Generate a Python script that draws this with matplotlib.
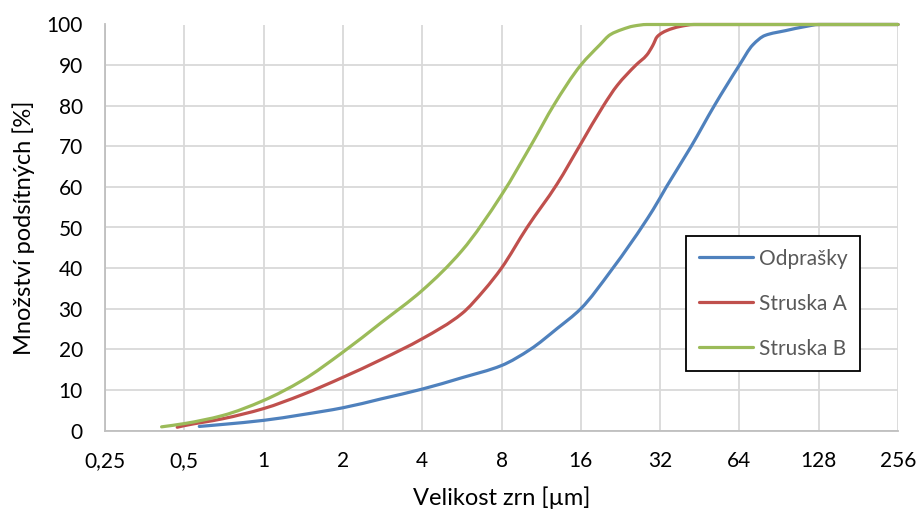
import matplotlib
matplotlib.use("Agg")
import numpy as np
import matplotlib.pyplot as plt
from matplotlib.lines import Line2D
from matplotlib.patches import PathPatch
from matplotlib.path import Path
from matplotlib.ticker import FixedLocator, NullLocator

plt.rcParams["font.family"] = ["Lato", "DejaVu Sans"]

# grain size [um] and cumulative passing [%]
odprasky_x = [0.57, 0.7, 1, 1.4, 2, 2.8, 4, 5.66, 8, 10.3, 13, 16, 20.8, 30.1,
              33.8, 42, 51.4, 64, 72, 80, 96, 114, 128, 256]
odprasky_y = [1.0, 1.5, 2.5, 3.9, 5.6, 7.8, 10.2, 13.0, 16.0, 20.0, 25.1, 30.0,
              39.3, 54.4, 60, 70, 80, 90, 95, 97.3, 98.5, 99.5, 100, 100]

struska_a_x = [0.47, 0.5, 0.7, 1, 1.4, 2, 2.8, 4, 5.66, 6.9, 8, 10, 13, 16,
               19.5, 22, 25.9, 28.5, 30, 31.2, 33.9, 38, 43, 256]
struska_a_y = [0.8, 1.2, 2.9, 5.4, 8.8, 13.1, 17.5, 22.6, 28.8, 34.7, 40, 50,
               60.7, 70.6, 80, 85, 90, 92.5, 94.8, 97, 98.5, 99.5, 100, 100]

struska_b_x = [0.41, 0.5, 0.7, 1, 1.4, 2, 2.8, 4, 5.66, 8, 10.6, 12.6, 16,
               18.9, 20.7, 23, 25.3, 28.5, 256]
struska_b_y = [0.9, 1.7, 3.7, 7.4, 12.3, 19.3, 26.6, 34.5, 44.3, 58.0, 71.4,
               80, 90, 95, 97.5, 98.8, 99.6, 100, 100]

series_names = ["Odprašky", "Struska A", "Struska B"]
series_colors = ["#4F81BD", "#C0504D", "#9BBB59"]

x_ticks = [0.25, 0.5, 1, 2, 4, 8, 16, 32, 64, 128, 256]
x_labels = ["0,25", "0,5", "1", "2", "4", "8", "16", "32", "64", "128", "256"]
y_ticks = list(range(0, 101, 10))


def smooth_path(xs, ys):
    # smoothed line like Excel: monotone cubic bezier through the points, in log2(x)
    lx = np.log2(xs)
    y = np.asarray(ys, dtype=float)
    h = np.diff(lx)
    d = np.diff(y) / h
    m = np.zeros_like(y)
    m[0], m[-1] = d[0], d[-1]
    for k in range(1, len(y) - 1):
        if d[k - 1] * d[k] > 0:
            w1 = 2 * h[k] + h[k - 1]
            w2 = h[k] + 2 * h[k - 1]
            m[k] = (w1 + w2) / (w1 / d[k - 1] + w2 / d[k])
    verts = [(xs[0], ys[0])]
    for i in range(len(y) - 1):
        c1 = (lx[i] + h[i] / 3, y[i] + m[i] * h[i] / 3)
        c2 = (lx[i + 1] - h[i] / 3, y[i + 1] - m[i + 1] * h[i] / 3)
        verts += [(2 ** c1[0], c1[1]), (2 ** c2[0], c2[1]), (xs[i + 1], ys[i + 1])]
    codes = [Path.MOVETO] + [Path.CURVE4] * 3 * (len(y) - 1)
    return Path(verts, codes)


fig = plt.figure(figsize=(9.19, 5.11), dpi=100)
ax = fig.add_axes([105 / 919, (511 - 430.5) / 511, 793 / 919, 406 / 511])

ax.set_xscale("log", base=2)
ax.set_xlim(0.25, 256)
ax.set_ylim(0, 100)

handles = []
for xs, ys, name, col in zip([odprasky_x, struska_a_x, struska_b_x],
                             [odprasky_y, struska_a_y, struska_b_y],
                             series_names, series_colors):
    ax.add_patch(PathPatch(smooth_path(xs, ys), fill=False, edgecolor=col,
                           lw=2.3, capstyle="round", joinstyle="round",
                           clip_on=False, zorder=3))
    handles.append(Line2D([], [], color=col, lw=2.3, solid_capstyle="round", label=name))

ax.xaxis.set_major_locator(FixedLocator(x_ticks))
ax.xaxis.set_minor_locator(NullLocator())
ax.set_xticklabels(x_labels)
ax.set_yticks(y_ticks)

ax.grid(True, color="#D9D9D9", lw=1.3)
ax.set_axisbelow(True)
for side in ["top", "right"]:
    ax.spines[side].set_visible(False)
for side in ["left", "bottom"]:
    ax.spines[side].set_color("#BFBFBF")
    ax.spines[side].set_linewidth(1.3)
ax.tick_params(axis="y", length=0, labelsize=15, colors="#000000", pad=16)
ax.tick_params(axis="x", length=0, labelsize=15, colors="#000000", pad=15)

ax.set_xlabel("Velikost zrn [µm]", fontsize=17)
ax.set_ylabel("Množství podsítných [%]", fontsize=17)
ax.xaxis.set_label_coords(0.5, -0.137)
ax.yaxis.set_label_coords(-0.088, 0.5)

leg = ax.legend(handles=handles, loc="upper left", bbox_to_anchor=(0.7327, 0.479),
                borderaxespad=0, fontsize=15, frameon=True, fancybox=False,
                handlelength=2.6, handletextpad=0.3, labelspacing=1.2,
                borderpad=0.6, labelcolor="#595959")
leg.get_frame().set_edgecolor("black")
leg.get_frame().set_linewidth(1.3)
leg.get_frame().set_alpha(1)
leg.set_zorder(5)

fig.savefig("out.png", dpi=100)
